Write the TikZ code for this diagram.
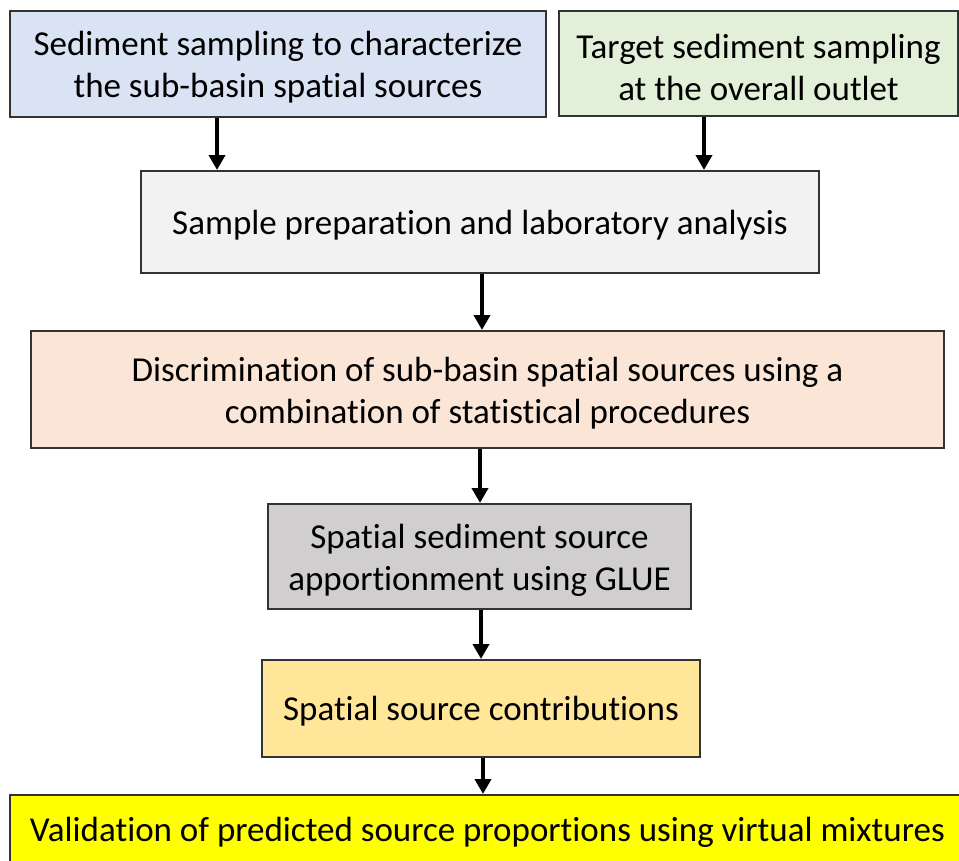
\documentclass[tikz,border=0pt]{standalone}
\usepackage{fontspec}
\setmainfont[Ligatures=NoCommon]{Carlito}
\usetikzlibrary{arrows.meta}
\definecolor{cA}{HTML}{DAE3F3}
\definecolor{cB}{HTML}{E2F0D9}
\definecolor{cC}{HTML}{F2F2F2}
\definecolor{cD}{HTML}{FBE5D6}
\definecolor{cE}{HTML}{D0CECE}
\definecolor{cF}{HTML}{FFE699}
\definecolor{cG}{HTML}{FFFF00}
\definecolor{edge}{HTML}{333333}
\begin{document}
\begin{tikzpicture}[x=1pt,y=1pt,
  box/.style={draw=edge, line width=2pt, rectangle, inner sep=0pt},
  txt/.style={inner sep=0pt, align=center, font=\fontsize{35}{42}\selectfont},
  arr/.style={line width=4pt, -{Triangle[width=16pt,length=15pt]}}]
\useasboundingbox (0,0) rectangle (959,-860);
\clip (0,0) rectangle (959,-860);
\node[box, fill=cA, minimum width=536pt, minimum height=106pt] (b1) at (278,-63.5) {};
\node[box, fill=cB, minimum width=399pt, minimum height=105pt] (b2) at (758.5,-63.5) {};
\node[box, fill=cC, minimum width=678pt, minimum height=102pt] (b3) at (480,-222) {};
\node[box, fill=cD, minimum width=913pt, minimum height=117pt] (b4) at (487.5,-389.5) {};
\node[box, fill=cE, minimum width=423pt, minimum height=105pt] (b5) at (479.5,-556.5) {};
\node[box, fill=cF, minimum width=438pt, minimum height=97pt] (b6) at (481,-708.5) {};
\node[box, fill=cG, minimum width=955pt, minimum height=70pt] (b7) at (487.5,-830) {};
\node[txt] (t1) at ([yshift=-4pt]b1.center) {Sediment sampling to characterize\\the sub-basin spatial sources};
\node[txt] (t2) at ([yshift=-4pt]b2.center) {Target sediment sampling\\at the overall outlet};
\node[txt] (t3) at ([yshift=-3pt]b3.center) {Sample preparation and laboratory analysis};
\node[txt] (t4) at ([yshift=-4pt]b4.center) {Discrimination of sub-basin spatial sources using a\\combination of statistical procedures};
\node[txt] (t5) at ([yshift=-4pt]b5.center) {Spatial sediment source\\apportionment using GLUE};
\node[txt] (t6) at ([yshift=-3pt]b6.center) {Spatial source contributions};
\node[txt] (t7) at ([yshift=-2pt]b7.center) {Validation of predicted source proportions using virtual mixtures};
\coordinate (x1) at (217,0);
\coordinate (x2) at (704,0);
\coordinate (x3) at (482,0);
\coordinate (x4) at (480,0);
\coordinate (x5) at (481,0);
\coordinate (x6) at (483,0);
\draw[arr] (b1.south -| x1) -- (b3.north -| x1);
\draw[arr] (b2.south -| x2) -- (b3.north -| x2);
\draw[arr] (b3.south -| x3) -- (b4.north -| x3);
\draw[arr] (b4.south -| x4) -- (b5.north -| x4);
\draw[arr] (b5.south -| x5) -- (b6.north -| x5);
\draw[arr] (b6.south -| x6) -- (b7.north -| x6);
\end{tikzpicture}
\end{document}
